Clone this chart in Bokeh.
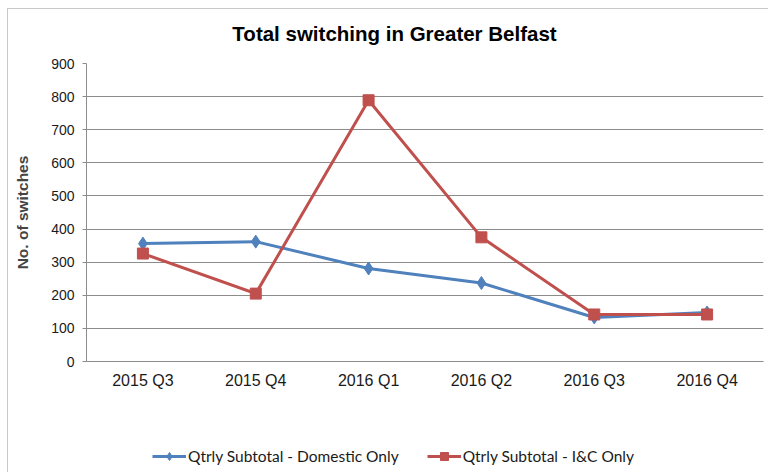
from bokeh.plotting import figure
from bokeh.models import Legend, LegendItem, Range1d, FixedTicker, Label
from bokeh.layouts import column
from bokeh.embed import file_html
from bokeh.resources import INLINE

quarters = ["2015 Q3", "2015 Q4", "2016 Q1", "2016 Q2", "2016 Q3", "2016 Q4"]
domestic = [356, 362, 281, 237, 133, 148]
ic = [326, 205, 789, 375, 142, 142]
y_ticks = [0, 100, 200, 300, 400, 500, 600, 700, 800, 900]
series_names = ["Qtrly Subtotal - Domestic Only", "Qtrly Subtotal - I&C Only"]
title_text = "Total switching in Greater Belfast"

BLUE = "#4f81bd"
RED = "#c0504d"
GRID = "#8c8c8c"
NAN = float("nan")


def blank(width, height):
    f = figure(width=width, height=height, x_range=Range1d(0, 1), y_range=Range1d(0, 1),
               output_backend="svg", toolbar_location=None,
               x_axis_location=None, y_axis_location=None,
               min_border_left=0, min_border_right=0, min_border_top=0, min_border_bottom=0)
    f.outline_line_color = None
    f.xgrid.visible = False
    f.ygrid.visible = False
    return f


# title strip
tf = blank(760, 44)
tf.add_layout(Label(x=308, y=20, x_units="screen", y_units="screen", text=title_text,
                    text_align="center", text_baseline="middle",
                    text_font="Liberation Sans", text_font_size="20.5px",
                    text_font_style="bold", text_color="#000000"))

# main chart
p = figure(x_range=quarters, y_range=Range1d(0, 900), width=760, height=348,
           output_backend="svg", toolbar_location=None,
           min_border_left=78, min_border_right=5, min_border_top=10, min_border_bottom=40)

p.outline_line_color = None
p.xgrid.grid_line_color = None
p.ygrid.grid_line_color = GRID
p.ygrid.grid_line_width = 1
p.yaxis.ticker = FixedTicker(ticks=y_ticks)

for ax in (p.xaxis[0], p.yaxis[0]):
    ax.axis_line_color = GRID
    ax.major_label_text_font = "Liberation Sans"
    ax.major_label_text_color = "#1a1a1a"
    ax.minor_tick_line_color = None
    ax.minor_tick_out = 0

p.xaxis.major_label_text_font_size = "16px"
p.yaxis.major_label_text_font_size = "14px"
p.xaxis.major_tick_line_color = None
p.xaxis.major_tick_out = 0
p.xaxis.major_tick_in = 0
p.xaxis.major_label_standoff = 10
p.yaxis.major_tick_line_color = GRID
p.yaxis.major_tick_out = 4
p.yaxis.major_tick_in = 0
p.yaxis.major_label_standoff = 8
p.yaxis.axis_label = "No. of switches"
p.yaxis.axis_label_text_font = "Liberation Sans"
p.yaxis.axis_label_text_font_size = "15.5px"
p.yaxis.axis_label_text_font_style = "bold"
p.yaxis.axis_label_standoff = 17

p.line(quarters, domestic, line_color=BLUE, line_width=3)
p.scatter(quarters, domestic, marker="diamond", size=13, fill_color=BLUE, line_color=BLUE)
p.line(quarters, ic, line_color=RED, line_width=3)
p.scatter(quarters, ic, marker="square", size=11, fill_color=RED, line_color=RED)

# legend strip below the chart (its glyphs hold no visible data)
lg = blank(760, 71)
e1 = lg.line([NAN], [NAN], line_color=BLUE, line_width=3)
e1m = lg.scatter([NAN], [NAN], marker="diamond", size=13, fill_color=BLUE, line_color=BLUE)
e2 = lg.line([NAN], [NAN], line_color=RED, line_width=3)
e2m = lg.scatter([NAN], [NAN], marker="square", size=11, fill_color=RED, line_color=RED)

legend = Legend(items=[
    LegendItem(label=series_names[0], renderers=[e1, e1m]),
    LegendItem(label=series_names[1], renderers=[e2, e2m]),
], orientation="horizontal", location=(66, 6))
legend.label_text_font = "Lato"
legend.label_text_font_size = "15.5px"
legend.label_text_color = "#1a1a1a"
legend.glyph_width = 34
legend.label_standoff = 2
legend.spacing = 28
legend.margin = 0
legend.padding = 6
legend.border_line_color = None
legend.background_fill_alpha = 0
lg.add_layout(legend, "center")

layout = column(tf, p, lg, spacing=0)
layout.styles = {"margin-left": "7px", "margin-top": "8px",
                 "border-left": "1px solid #c8c8c8", "border-top": "1px solid #c8c8c8"}

open("out.html", "w").write(file_html(layout, INLINE))
